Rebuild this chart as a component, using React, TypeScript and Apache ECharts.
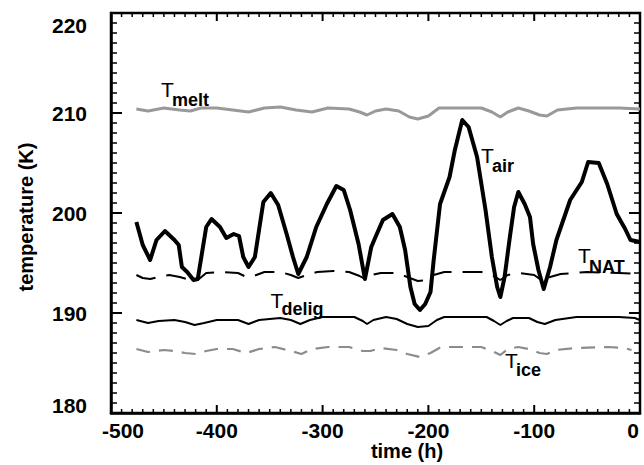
import React, { useEffect, useRef } from "react";
import * as echarts from "echarts";

// ---- data (time in h, temperature in K) ----
const airTime = [-476, -470, -463, -457, -449, -440, -436, -433, -428, -422, -418, -410, -405, -397, -391, -384, -379, -375, -370, -364, -356, -349, -342, -334, -328, -323, -315, -306, -296, -287, -280, -274, -266, -260, -254, -250, -243, -234, -227, -222, -217, -213, -208, -203, -198, -195, -189, -180, -175, -168, -162, -154, -146, -140, -135, -132, -128, -123, -119, -115, -109, -104, -101, -96, -91, -85, -79, -66, -55, -49, -39, -31, -22, -14, -9, 0];
const airTemp = [199.1, 196.8, 195.3, 197.3, 198.2, 197.3, 196.8, 194.6, 194.1, 193.3, 193.4, 198.6, 199.4, 198.6, 197.5, 197.9, 197.7, 195.6, 194.6, 195.6, 201.1, 202.0, 200.8, 197.9, 195.6, 193.9, 195.6, 198.6, 200.9, 202.7, 202.3, 200.3, 196.9, 193.4, 196.6, 197.6, 199.3, 199.9, 198.6, 196.3, 192.6, 190.9, 190.3, 190.9, 192.1, 195.3, 200.9, 203.6, 206.3, 209.3, 208.6, 205.6, 200.3, 195.6, 192.6, 191.6, 193.6, 197.6, 200.6, 202.1, 200.9, 199.6, 196.9, 194.3, 192.4, 194.6, 197.3, 201.3, 203.1, 205.1, 205.0, 202.9, 199.9, 198.4, 197.3, 197.1];

const natTime = [-476, -470, -463, -455, -445, -435, -425, -418, -410, -395, -380, -372, -365, -355, -340, -330, -323, -315, -305, -290, -275, -265, -260, -254, -245, -230, -220, -210, -200, -195, -185, -150, -140, -132, -125, -115, -100, -92, -85, -75, -50, -20, 0];
const natTemp = [193.8, 193.5, 193.4, 193.6, 193.8, 193.6, 193.3, 193.3, 194.0, 194.1, 194.0, 193.6, 193.7, 194.1, 194.1, 193.8, 193.5, 193.8, 194.1, 194.2, 194.1, 193.7, 193.4, 193.8, 194.0, 194.0, 193.6, 193.2, 193.3, 193.8, 194.1, 194.1, 193.8, 193.3, 193.8, 194.0, 193.8, 193.2, 193.6, 193.9, 194.1, 194.0, 193.9];

const deligTime = [-476, -465, -455, -440, -430, -421, -412, -400, -380, -370, -360, -340, -330, -321, -312, -300, -270, -262, -258, -252, -240, -230, -220, -210, -200, -192, -185, -145, -138, -132, -126, -120, -105, -97, -90, -80, -60, -20, -5, 0];
const deligTemp = [189.3, 189.0, 189.2, 189.3, 189.1, 188.8, 189.0, 189.3, 189.3, 188.9, 189.3, 189.5, 189.3, 188.9, 189.3, 189.6, 189.6, 189.2, 188.9, 189.3, 189.6, 189.4, 188.9, 188.6, 188.7, 189.3, 189.6, 189.6, 189.2, 188.8, 189.2, 189.5, 189.5, 189.1, 188.9, 189.3, 189.6, 189.6, 189.5, 189.3];

const iceTime = [-476, -465, -450, -440, -430, -420, -410, -400, -385, -372, -360, -345, -330, -320, -310, -295, -275, -262, -255, -245, -230, -220, -208, -198, -188, -150, -140, -132, -125, -115, -105, -95, -88, -80, -60, -30, -15, -8];
const iceTemp = [186.4, 186.1, 186.3, 186.2, 186.0, 185.9, 186.2, 186.4, 186.4, 186.0, 186.4, 186.6, 186.2, 185.9, 186.4, 186.6, 186.6, 186.2, 186.2, 186.5, 186.3, 185.9, 185.6, 186.0, 186.6, 186.6, 186.2, 185.8, 186.4, 186.6, 186.4, 186.0, 185.9, 186.3, 186.5, 186.6, 186.5, 186.3];

const meltTime = [-476, -465, -450, -435, -425, -415, -400, -385, -370, -355, -340, -325, -310, -295, -275, -265, -258, -250, -240, -228, -218, -210, -200, -190, -150, -140, -132, -125, -115, -105, -95, -88, -78, -60, -20, 0];
const meltTemp = [210.4, 210.2, 210.5, 210.3, 210.2, 210.5, 210.5, 210.3, 210.1, 210.5, 210.6, 210.3, 210.1, 210.5, 210.4, 210.1, 209.8, 210.2, 210.4, 210.2, 209.6, 209.4, 209.7, 210.5, 210.5, 210.1, 209.6, 210.1, 210.5, 210.2, 209.8, 209.7, 210.3, 210.5, 210.5, 210.4];

// ---- axes ----
const xTicks = [-500, -400, -300, -200, -100, 0];
const yTicks = [180, 190, 200, 210, 220];
const xMinorStep = 10; // h
const yMinorStep = 1; // K
const xTitle = "time (h)";
const yTitle = "temperature (K)";

const FONT = "'Liberation Sans', Arial, Helvetica, sans-serif";

const zip = (a: number[], b: number[]) => a.map((v, i) => [v, b[i]]);

function tLabel(x: number, yT: number, sub: string, yS: number) {
  return {
    type: "group",
    children: [
      { type: "text", x, y: yT, style: { text: "T", font: `21px ${FONT}`, fill: "#000", align: "left", verticalAlign: "middle" } },
      { type: "text", x: x + 11, y: yS, style: { text: sub, font: `bold 18px ${FONT}`, fill: "#000", align: "left", verticalAlign: "middle" } },
    ],
  };
}

export default function App() {
  const ref = useRef<HTMLDivElement>(null);
  useEffect(() => {
    document.body.style.margin = "0";
    if (!ref.current) return;
    const chart = echarts.init(ref.current, undefined, { renderer: "svg" });
    const labelFont = { color: "#000", fontFamily: FONT, fontWeight: "bold" as const, fontSize: 21 };
    const xMin = xTicks[0], xMax = xTicks[xTicks.length - 1];
    const yMin = yTicks[0], yMax = yTicks[yTicks.length - 1];

    // inward tick marks on all four sides, as short segments in data units
    // (length: 0.8 K / 0.4 K for time ticks, 10.4 h / 5.7 h for temperature ticks)
    const BREAK = [NaN, NaN];
    const xMajorSeg: any[] = [], xMinorSeg: any[] = [], yMajorSeg: any[] = [], yMinorSeg: any[] = [];
    for (let v = xMin; v <= xMax + 1e-9; v += xMinorStep) {
      const major = xTicks.some((t) => Math.abs(t - v) < 1e-6);
      const len = major ? 0.8 : 0.4;
      const arr = major ? xMajorSeg : xMinorSeg;
      arr.push([v, yMin], [v, yMin + len], BREAK, [v, yMax], [v, yMax - len], BREAK);
    }
    for (let v = yMin; v <= yMax + 1e-9; v += yMinorStep) {
      const major = yTicks.some((t) => Math.abs(t - v) < 1e-6);
      const len = major ? 10.4 : 5.7;
      const arr = major ? yMajorSeg : yMinorSeg;
      arr.push([xMin, v], [xMin + len, v], BREAK, [xMax, v], [xMax - len, v], BREAK);
    }
    const tickSeries = (data: any[], w: number) => ({
      type: "line", data, symbol: "none", connectNulls: false, clip: false, silent: true,
      lineStyle: { color: "#000", width: w, cap: "butt" }, tooltip: { show: false },
    });

    chart.setOption({
      animation: false,
      backgroundColor: "#fff",
      grid: { left: 111, right: 4, top: 13, bottom: 52, show: true, borderColor: "#000", borderWidth: 2.5, backgroundColor: "transparent" },
      xAxis: {
        type: "value", min: xMin, max: xMax, interval: 100, position: "bottom",
        axisLine: { show: true, onZero: false, lineStyle: { color: "#000", width: 2.5 } },
        splitLine: { show: false }, axisTick: { show: false }, minorTick: { show: false },
        axisLabel: {
          ...labelFont, margin: 7,
          formatter: (v: number) => (v === xMin ? `{l|${v}}` : v === xMax ? `{r|${v}}` : String(v)),
          rich: {
            l: { ...labelFont, padding: [0, 0, 0, 24] },
            r: { ...labelFont, padding: [0, 14, 0, 0] },
          },
        },
      },
      yAxis: {
        type: "value", min: yMin, max: yMax, interval: 10, position: "left",
        axisLine: { show: true, onZero: false, lineStyle: { color: "#000", width: 2.5 } },
        splitLine: { show: false }, axisTick: { show: false }, minorTick: { show: false },
        axisLabel: {
          ...labelFont, margin: 24,
          formatter: (v: number) => (v === yMax ? `{t|${v}}` : v === yMin ? `{b|${v}}` : String(v)),
          rich: {
            t: { ...labelFont, padding: [24, 0, 0, 0] },
            b: { ...labelFont, padding: [0, 0, 15, 0] },
          },
        },
      },
      series: [
        tickSeries(xMajorSeg, 2),
        tickSeries(xMinorSeg, 1.5),
        tickSeries(yMajorSeg, 2),
        tickSeries(yMinorSeg, 1.5),
        { name: "Tmelt", type: "line", data: zip(meltTime, meltTemp), symbol: "none", lineStyle: { color: "#999", width: 3 } },
        { name: "Tice", type: "line", data: zip(iceTime, iceTemp), symbol: "none", lineStyle: { color: "#8c8c8c", width: 2.2, type: [14, 9] } },
        { name: "Tdelig", type: "line", data: zip(deligTime, deligTemp), symbol: "none", lineStyle: { color: "#000", width: 2 } },
        { name: "TNAT", type: "line", data: zip(natTime, natTemp), symbol: "none", lineStyle: { color: "#000", width: 2, type: [20, 11] } },
        { name: "Tair", type: "line", data: zip(airTime, airTemp), symbol: "none", lineStyle: { color: "#000", width: 4, join: "round" } },
      ],
      graphic: [
        { type: "text", x: 26, y: 217, rotation: Math.PI / 2, style: { text: yTitle, font: `bold 20px ${FONT}`, fill: "#000", align: "center", verticalAlign: "middle" } },
        { type: "text", x: 407, y: 451, style: { text: xTitle, font: `bold 20px ${FONT}`, fill: "#000", align: "center", verticalAlign: "middle" } },
        tLabel(161, 89.5, "melt", 100),
        tLabel(481, 155.5, "air", 165.5),
        tLabel(578, 255.5, "NAT", 267),
        tLabel(270.5, 300.5, "delig", 308.5),
        tLabel(505, 360.8, "ice", 369.5),
      ],
    });
    return () => chart.dispose();
  }, []);
  return <div ref={ref} style={{ width: 644, height: 465 }} />;
}
